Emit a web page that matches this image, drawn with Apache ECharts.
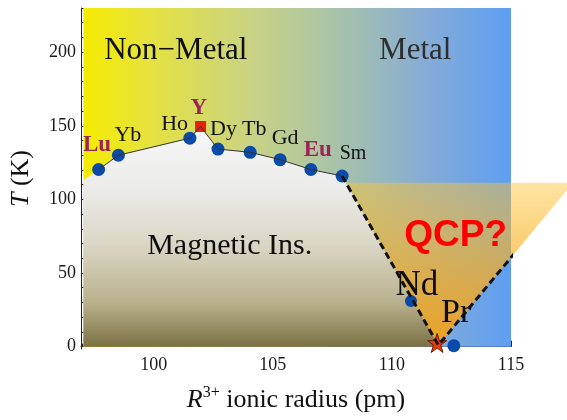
<!DOCTYPE html>
<html><head><meta charset="utf-8">
<script src="https://cdn.jsdelivr.net/npm/echarts@6/dist/echarts.min.js"></script>
<style>html,body{margin:0;padding:0;background:#fff}#c{width:567px;height:420px}</style>
</head><body><div id="c"></div>
<script>
// ---- data ----
const elements = ['Lu', 'Yb', 'Ho', 'Y', 'Dy', 'Tb', 'Gd', 'Eu', 'Sm'];
const ionicRadius = [97.69, 98.52, 101.52, 101.97, 102.70, 104.05, 105.31, 106.6, 107.91];
const transitionT = [120.3, 130, 141.6, 149.5, 134.2, 132, 127, 120.3, 115.9];
const boldElements = ['Lu', 'Y', 'Eu'];
const squareElement = 'Y';
const ndPoint = [110.8, 31];
const prPoint = [112.6, 0.6];
const qcpPoint = [111.9, 2.5];
const leftEdgeBoundary = [97.05, 113];
const fanBottom = [111.95, 1];
const fanTopRight = [117.6, 111.3];
const fanTopT = 111.3;
const plotXRange = [97.05, 115];
const plotTRange = [0, 230];
const xMajorTicks = [100, 105, 110, 115];
const xMinorTicks = [97, 98, 99, 101, 102, 103, 104, 106, 107, 108, 109, 111, 112, 113, 114];
const yMajorTicks = [0, 50, 100, 150, 200];
const yMinorTicks = [10, 20, 30, 40, 60, 70, 80, 90, 110, 120, 130, 140, 160, 170, 180, 190, 210, 220, 230];
// annotation anchors (data coords)
const elementLabelAt = [[97.62, 136.8], [98.92, 143.6], [100.88, 151.3], [101.9, 162.1], [102.93, 147.7], [104.22, 147.8], [105.52, 141.6], [106.89, 133.6], [108.37, 130.9]];
const regionLabels = ['Non\u2212Metal', 'Metal', 'Magnetic Ins.', 'Nd', 'Pr'];
const regionLabelAt = [[100.93, 200.7], [110.98, 200.7], [103.19, 68], [111.05, 41.3], [112.7, 22.8]];
const qcpLabel = 'QCP?';
const qcpLabelAt = [112.68, 75];

// ---- styles ----
const SERIF = '"Liberation Serif", "Times New Roman", serif';
const MAGENTA = '#9a2658';
const DOT = '#0a4aaa';
const STAR = 'path://M50,2 L61,36 L97,36 L68,57 L79,92 L50,71 L21,92 L32,57 L3,36 L39,36 Z';

const chart = echarts.init(document.getElementById('c'), null, {renderer: 'canvas'});

const fanLeftTopX = ionicRadius[8] + (transitionT[8] - fanTopT) / (transitionT[8] - fanBottom[1]) * (fanBottom[0] - ionicRadius[8]);

function axisBase(extra) {
  return Object.assign({
    type: 'value', splitLine: {show: false}
  }, extra);
}

const option = {
  animation: false,
  grid: {left: 75.5, right: 56, top: 8, bottom: 67, show: false},
  xAxis: [
    axisBase({
      min: 96.95, max: 115, position: 'bottom',
      axisLine: {show: true, lineStyle: {color: '#222', width: 1}},
      axisTick: {show: true, inside: true, length: 6, customValues: xMajorTicks, lineStyle: {color: '#222'}},
      axisLabel: {customValues: xMajorTicks, fontFamily: SERIF, fontSize: 18, color: '#1a1a1a', margin: 7},
      name: '{i|R}{sup|3+} ionic radius (pm)', nameLocation: 'middle', nameGap: 36,
      nameTextStyle: {fontFamily: SERIF, fontSize: 26, color: '#111', lineHeight: 30,
        rich: {i: {fontFamily: SERIF, fontSize: 26, fontStyle: 'italic', color: '#111', lineHeight: 30},
               sup: {fontFamily: SERIF, fontSize: 16, color: '#111', verticalAlign: 'top', lineHeight: 18}}}
    }),
    axisBase({
      min: 96.95, max: 115, position: 'bottom',
      axisLine: {show: false},
      axisTick: {show: true, inside: true, length: 3, customValues: xMinorTicks, lineStyle: {color: '#222'}},
      axisLabel: {show: false}
    })
  ],
  yAxis: [
    axisBase({
      min: -1.6, max: 230, position: 'left',
      axisLine: {show: true, lineStyle: {color: '#222', width: 1}},
      axisTick: {show: true, inside: true, length: 6, customValues: yMajorTicks, lineStyle: {color: '#222'}},
      axisLabel: {customValues: yMajorTicks, fontFamily: SERIF, fontSize: 18, color: '#1a1a1a', margin: 5},
      name: '{i|T} (K)', nameLocation: 'middle', nameGap: 47,
      nameTextStyle: {fontFamily: SERIF, fontSize: 26, color: '#111',
        rich: {i: {fontFamily: SERIF, fontSize: 26, fontStyle: 'italic', color: '#111'}}}
    }),
    axisBase({
      min: -1.6, max: 230, position: 'left',
      axisLine: {show: false},
      axisTick: {show: true, inside: true, length: 3, customValues: yMinorTicks, lineStyle: {color: '#222'}},
      axisLabel: {show: false}
    })
  ],
  series: [
    // background metal / non-metal gradient
    {
      type: 'custom', xAxisIndex: 0, yAxisIndex: 0, silent: true,
      data: [[plotXRange[0], plotXRange[1], plotTRange[0], plotTRange[1]]],
      renderItem: (params, api) => {
        const p0 = api.coord([api.value(0), api.value(3)]);
        const p1 = api.coord([api.value(1), api.value(2)]);
        return {type: 'rect', shape: {x: p0[0], y: p0[1], width: p1[0] - p0[0], height: p1[1] - p0[1]},
          style: {fill: new echarts.graphic.LinearGradient(0, 0, 1, 0, [
            {offset: 0, color: '#f5ec00'}, {offset: 0.15, color: '#e6e23e'},
            {offset: 0.4, color: '#c8d286'}, {offset: 0.6, color: '#a6c2aa'},
            {offset: 0.8, color: '#86acd6'}, {offset: 1, color: '#5e9ef2'}])}};
      }
    },
    // magnetic insulator region
    {
      type: 'custom', silent: true, data: [0],
      renderItem: (params, api) => {
        const pts = [leftEdgeBoundary];
        for (let i = 0; i < ionicRadius.length; i++) pts.push([ionicRadius[i], transitionT[i]]);
        pts.push(fanBottom, [fanBottom[0], 0], [plotXRange[0], 0]);
        return {type: 'polygon', shape: {points: pts.map(p => api.coord(p))},
          style: {fill: new echarts.graphic.LinearGradient(0, 0, 0, 1, [
            {offset: 0, color: '#f7f7f7'}, {offset: 0.27, color: '#ececeb'},
            {offset: 0.53, color: '#dbd7c6'}, {offset: 0.8, color: '#b9b18d'},
            {offset: 1, color: '#7b7143'}])}};
      }
    },
    // boundary line
    {
      type: 'line', data: ionicRadius.map((x, i) => [x, transitionT[i]]),
      symbol: 'none', lineStyle: {color: '#333', width: 1}, silent: true
    },
    // Nd point (under the fan)
    {
      type: 'scatter', data: [ndPoint], symbolSize: 12, itemStyle: {color: DOT, opacity: 1}, silent: true
    },
    // QCP fan
    {
      type: 'custom', silent: true, clip: false, data: [0],
      renderItem: (params, api) => {
        const pts = [[fanLeftTopX, fanTopT], [fanTopRight[0], fanTopT], fanBottom];
        return {type: 'polygon', shape: {points: pts.map(p => api.coord(p))},
          style: {fill: new echarts.graphic.LinearGradient(0, 0, 0, 1, [
            {offset: 0, color: 'rgba(255,196,50,0.45)'}, {offset: 0.5, color: 'rgba(246,176,40,0.72)'},
            {offset: 1, color: 'rgba(242,160,25,0.95)'}])}};
      }
    },
    // dashed fan edges
    {
      type: 'line', clip: false, silent: true,
      data: [[ionicRadius[8], transitionT[8]], fanBottom, fanTopRight],
      symbol: 'none', lineStyle: {color: '#111', width: 3, type: [7, 4]}
    },
    // blue points
    {
      type: 'scatter', clip: false, silent: true,
      data: ionicRadius.map((x, i) => [x, transitionT[i]]).filter((p, i) => elements[i] !== squareElement).concat([prPoint]),
      symbolSize: 13, itemStyle: {color: DOT, opacity: 1}
    },
    // Y square
    {
      type: 'scatter', silent: true, symbol: 'rect', symbolSize: 11,
      data: ionicRadius.map((x, i) => [x, transitionT[i]]).filter((p, i) => elements[i] === squareElement),
      itemStyle: {color: '#e8220a', opacity: 1}
    },
    // QCP star
    {
      type: 'scatter', clip: false, silent: true, symbol: STAR, symbolSize: 19,
      data: [qcpPoint], itemStyle: {color: '#f03a10', borderColor: '#6a1a00', borderWidth: 1, opacity: 1}
    },
    // element labels
    {
      type: 'scatter', clip: false, silent: true, symbolSize: 0, itemStyle: {opacity: 1},
      data: elements.map((e, i) => {
        const bold = boldElements.includes(e);
        return {value: elementLabelAt[i], label: {show: true, position: 'inside', formatter: e,
          fontFamily: SERIF, fontSize: bold ? 23 : (e === 'Sm' ? 20 : 22), fontWeight: bold ? 'bold' : 'normal',
          color: bold ? MAGENTA : '#111'}};
      })
    },
    // region labels
    {
      type: 'scatter', clip: false, silent: true, symbolSize: 0, itemStyle: {opacity: 1},
      data: regionLabels.map((t, i) => {
        const size = [31, 31, 30, 35, 34][i];
        return {value: regionLabelAt[i], label: {show: true, position: 'inside', formatter: t,
          fontFamily: SERIF, fontSize: size, color: t === 'Metal' ? '#2e2e2e' : '#0e0e0e'}};
      }).concat([{value: qcpLabelAt, label: {show: true, position: 'inside', formatter: qcpLabel,
          fontFamily: '"Liberation Sans", Arial, sans-serif', fontSize: 37, fontWeight: 'bold', color: '#ff0000'}}])
    }
  ]
};
chart.setOption(option);
</script></body></html>
